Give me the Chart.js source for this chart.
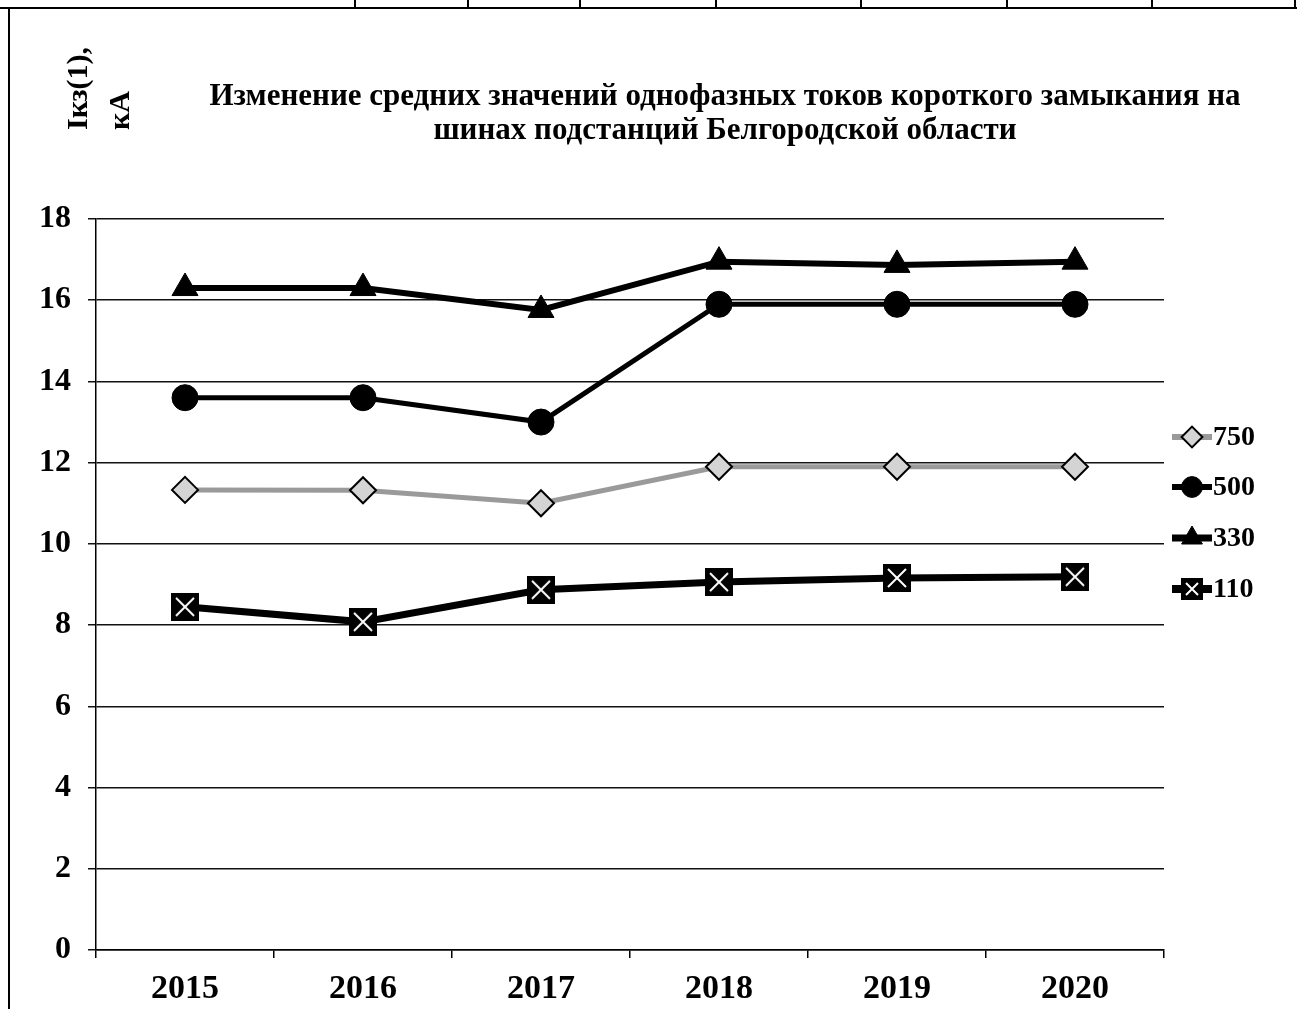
<!DOCTYPE html>
<html lang="ru">
<head>
  <meta charset="UTF-8">
  <title>Токи короткого замыкания</title>
  <script src="https://cdn.jsdelivr.net/npm/chart.js"></script>
  <style>
    body { margin: 0; background: #fff; }
    .sheet { position: relative; width: 1297px; height: 1009px; overflow: hidden; }
    .frame-top { position: absolute; left: 0; top: 7px; width: 1297px; height: 2px; background: #000; }
    .frame-left { position: absolute; left: 8px; top: 8px; width: 2px; height: 1001px; background: #000; }
    .cell { position: absolute; top: 0; width: 2px; height: 8px; background: #000; }
    canvas { position: absolute; left: 0; top: 0; }
  </style>
</head>
<body>
  <div class="sheet">
    <canvas id="chart" width="1297" height="1009"></canvas>
    <!-- table border above the chart -->
    <div class="frame-top"></div>
    <div class="frame-left"></div>
    <div class="cell" style="left:354px"></div>
    <div class="cell" style="left:467px"></div>
    <div class="cell" style="left:579px"></div>
    <div class="cell" style="left:715px"></div>
    <div class="cell" style="left:860px"></div>
    <div class="cell" style="left:1006px"></div>
    <div class="cell" style="left:1151px"></div>
    <div class="cell" style="left:1294px"></div>
  </div>

  <script>
    const years = ['2015', '2016', '2017', '2018', '2019', '2020'];
    const kv750 = [11.33, 11.32, 11.0, 11.9, 11.9, 11.9];
    const kv500 = [13.6, 13.6, 13.0, 15.9, 15.9, 15.9];
    const kv330 = [16.3, 16.3, 15.76, 16.95, 16.87, 16.95];
    const kv110 = [8.45, 8.08, 8.87, 9.06, 9.16, 9.19];
    const seriesNames = ['750', '500', '330', '110'];
    const yTicks = [0, 2, 4, 6, 8, 10, 12, 14, 16, 18];

    const titleLines = [
      'Изменение средних значений однофазных токов короткого замыкания на',
      'шинах подстанций Белгородской области'
    ];
    const axisTitle = ['Iкз(1),', 'кА'];

    const serif = "'Liberation Serif', 'Times New Roman', serif";

    // black square with a white cross for the 110 kV series
    function crossBox(size) {
      const c = document.createElement('canvas');
      c.width = size; c.height = size;
      const g = c.getContext('2d');
      g.fillStyle = '#000';
      g.fillRect(0, 0, size, size);
      g.strokeStyle = '#fff';
      g.lineWidth = 2;
      g.beginPath();
      g.moveTo(5, 5); g.lineTo(size - 5, size - 5);
      g.moveTo(size - 5, 5); g.lineTo(5, size - 5);
      g.stroke();
      return c;
    }
    const boxBig = crossBox(28);
    const boxSmall = crossBox(22);

    // title, rotated axis caption and the legend on the right
    const captions = {
      id: 'captions',
      afterDraw(chart) {
        const ctx = chart.ctx;
        ctx.save();
        ctx.fillStyle = '#000';
        ctx.textAlign = 'center';
        ctx.textBaseline = 'middle';
        ctx.font = 'bold 31px ' + serif;
        ctx.fillText(titleLines[0], 725, 97);
        ctx.fillText(titleLines[1], 725, 131);

        ctx.font = 'bold 30px ' + serif;
        ctx.textAlign = 'left';
        ctx.translate(0, 130);
        ctx.rotate(-Math.PI / 2);
        ctx.fillText(axisTitle[0], 0, 79);
        ctx.fillText(axisTitle[1], 0, 121);
        ctx.restore();

        const rows = [437, 487, 538, 589];
        chart.data.datasets.forEach((ds, i) => {
          const y = rows[i];
          ctx.save();
          ctx.strokeStyle = ds.borderColor;
          ctx.lineWidth = ds.borderWidth + 1;
          ctx.beginPath();
          ctx.moveTo(1172, y);
          ctx.lineTo(1212, y);
          ctx.stroke();
          ctx.fillStyle = ds.pointBackgroundColor;
          ctx.strokeStyle = ds.pointBorderColor;
          ctx.lineWidth = ds.pointBorderWidth;
          const style = ds.legendStyle || ds.pointStyle;
          Chart.helpers.drawPoint(ctx, { pointStyle: style, radius: ds.pointRadius * 0.8, rotation: 0, borderWidth: ds.pointBorderWidth }, 1192, y);
          ctx.fillStyle = '#000';
          ctx.font = 'bold 28px ' + serif;
          ctx.textAlign = 'left';
          ctx.textBaseline = 'middle';
          ctx.fillText(seriesNames[i], 1213, y + 1);
          ctx.restore();
        });
      }
    };

    new Chart(document.getElementById('chart'), {
      type: 'line',
      data: {
        labels: years,
        datasets: [
          {
            label: seriesNames[0], data: kv750,
            borderColor: '#9a9a9a', borderWidth: 5,
            pointStyle: 'rectRot', pointRadius: 13,
            pointBackgroundColor: '#d4d4d4', pointBorderColor: '#000', pointBorderWidth: 2
          },
          {
            label: seriesNames[1], data: kv500,
            borderColor: '#000', borderWidth: 5,
            pointStyle: 'circle', pointRadius: 13,
            pointBackgroundColor: '#000', pointBorderColor: '#000', pointBorderWidth: 1
          },
          {
            label: seriesNames[2], data: kv330,
            borderColor: '#000', borderWidth: 6,
            pointStyle: 'triangle', pointRadius: 15,
            pointBackgroundColor: '#000', pointBorderColor: '#000', pointBorderWidth: 1
          },
          {
            label: seriesNames[3], data: kv110,
            borderColor: '#000', borderWidth: 7,
            pointStyle: boxBig, legendStyle: boxSmall, pointRadius: 14,
            pointBackgroundColor: '#000', pointBorderColor: '#000', pointBorderWidth: 1
          }
        ]
      },
      options: {
        responsive: false,
        animation: false,
        devicePixelRatio: 1,
        layout: { padding: { left: 0, right: 133, top: 219, bottom: 0 } },
        plugins: {
          legend: { display: false },
          tooltip: { enabled: false }
        },
        elements: { line: { tension: 0 } },
        scales: {
          x: {
            offset: true,
            afterFit(scale) { scale.height = 59; },
            grid: {
              offset: true, drawOnChartArea: false, drawTicks: true,
              tickLength: 8, color: '#000', lineWidth: 1.5
            },
            border: { display: true, color: '#000', width: 1.5 },
            ticks: {
              color: '#000', padding: 11,
              font: { family: serif, size: 34, weight: 'bold' }
            }
          },
          y: {
            min: 0, max: 18,
            afterFit(scale) { scale.width = 96; },
            afterBuildTicks(scale) { scale.ticks = yTicks.map(v => ({ value: v })); },
            grid: { color: '#111', lineWidth: 1.5, tickLength: 8 },
            border: { display: true, color: '#000', width: 1.5 },
            ticks: {
              color: '#000', padding: 17,
              font: { family: serif, size: 32, weight: 'bold' }
            }
          }
        }
      },
      plugins: [captions]
    });
  </script>
</body>
</html>
